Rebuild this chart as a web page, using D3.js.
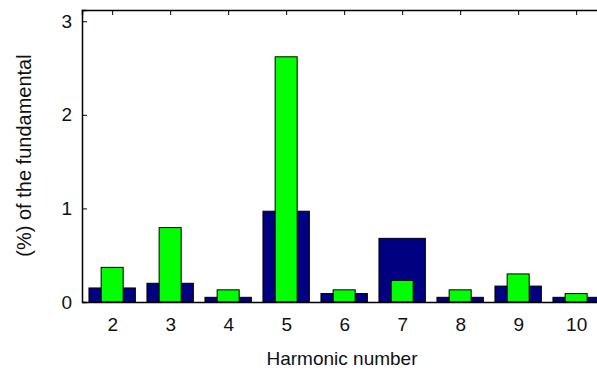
<!DOCTYPE html>
<html>
<head>
<meta charset="utf-8">
<script src="https://cdn.jsdelivr.net/npm/d3@7"></script>
<style>
  body { margin: 0; background: #fff; }
  text { font-family: "Liberation Sans", Arial, sans-serif; }
</style>
</head>
<body>
<script>
var w = 597;
var h = 370;

var harmonics = [2, 3, 4, 5, 6, 7, 8, 9, 10];
var wideValues = [0.15, 0.2, 0.05, 0.97, 0.09, 0.68, 0.05, 0.17, 0.05];
var narrowValues = [0.37, 0.795, 0.13, 2.62, 0.13, 0.23, 0.13, 0.3, 0.09];
var yTicks = [0, 1, 2, 3];

var padLeft = 82, padTop = 10, padBottom = 302;
var fontSize = 19;

var xScale = d3.scaleLinear()
  .domain([1.48, 10.5])
  .range([padLeft, padLeft + 58 * (10.5 - 1.48)]);

var yScale = d3.scaleLinear()
  .domain([0, 3.12])
  .range([padBottom, padTop]);

var step = xScale(3) - xScale(2);

var svg = d3.select("body")
  .append("svg")
  .attr("width", w)
  .attr("height", h);

// wide navy bars
svg.selectAll("rect.wide")
  .data(harmonics)
  .enter()
  .append("rect")
  .attr("class", "wide")
  .attr("x", function(d) { return xScale(d) - step * 0.4; })
  .attr("y", function(d, i) { return yScale(wideValues[i]); })
  .attr("width", step * 0.8)
  .attr("height", function(d, i) { return yScale(0) - yScale(wideValues[i]); })
  .attr("fill", "#000080")
  .attr("stroke", "#000")
  .attr("stroke-width", 1);

// narrow green bars
svg.selectAll("rect.narrow")
  .data(harmonics)
  .enter()
  .append("rect")
  .attr("class", "narrow")
  .attr("x", function(d) { return xScale(d) - step * 0.19; })
  .attr("y", function(d, i) { return yScale(narrowValues[i]); })
  .attr("width", step * 0.38)
  .attr("height", function(d, i) { return yScale(0) - yScale(narrowValues[i]); })
  .attr("fill", "#00ff00")
  .attr("stroke", "#000")
  .attr("stroke-width", 1);

var xAxis = d3.axisBottom(xScale).tickValues(harmonics).tickSize(0).tickPadding(16);
var xTop = d3.axisTop(xScale).tickValues(harmonics).tickSize(-5).tickFormat("");
var yAxis = d3.axisLeft(yScale).tickValues(yTicks).tickSize(-5).tickPadding(10)
  .tickFormat(d3.format("d"));

svg.append("g")
  .attr("class", "x axis")
  .attr("transform", "translate(0," + padBottom + ")")
  .call(xAxis);

svg.append("g")
  .attr("class", "x axis top")
  .attr("transform", "translate(0," + padTop + ")")
  .call(xTop);

svg.append("g")
  .attr("class", "y axis")
  .attr("transform", "translate(" + padLeft + ",0)")
  .call(yAxis);

svg.selectAll(".axis").attr("font-size", fontSize)
  .attr("font-family", '"Liberation Sans", Arial, sans-serif');
svg.selectAll(".axis path.domain").attr("stroke", "#000").attr("stroke-width", 1.5);
svg.selectAll(".axis text").attr("fill", "#111");

svg.append("text")
  .attr("x", 342)
  .attr("y", 365)
  .attr("text-anchor", "middle")
  .attr("font-size", fontSize)
  .attr("fill", "#111")
  .text("Harmonic number");

svg.append("text")
  .attr("transform", "translate(31,155.5) rotate(-90)")
  .attr("text-anchor", "middle")
  .attr("font-size", 20)
  .attr("fill", "#111")
  .text("(%) of the fundamental");
</script>
</body>
</html>
